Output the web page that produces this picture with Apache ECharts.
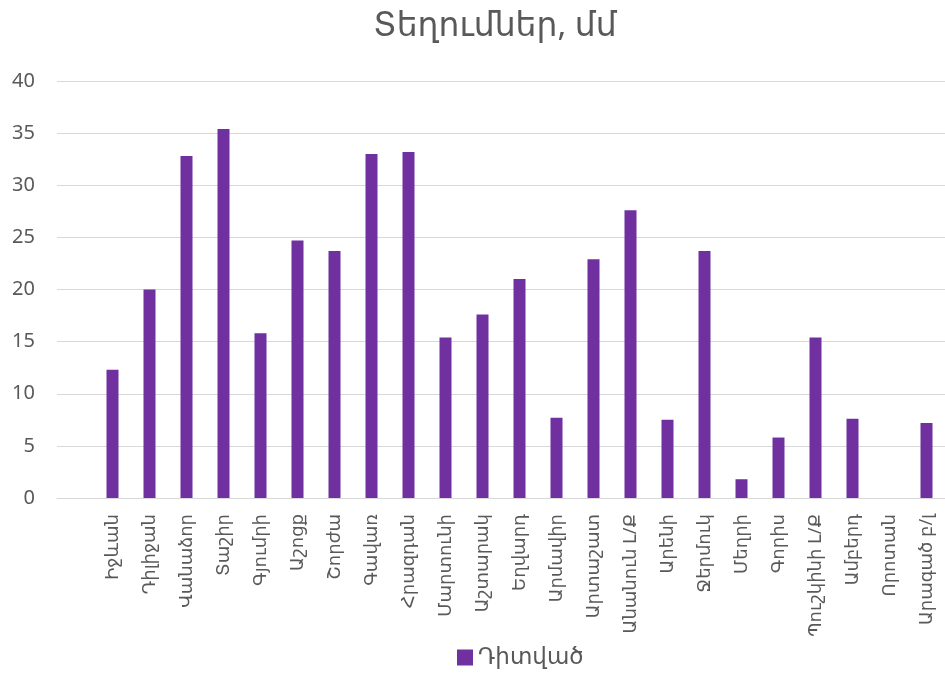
<!DOCTYPE html>
<html>
<head>
<meta charset="utf-8">
<script src="https://cdn.jsdelivr.net/npm/echarts@6/dist/echarts.min.js"></script>
<style>
html,body{margin:0;padding:0;background:#fff;}
#chart{width:945px;height:700px;}
</style>
</head>
<body>
<div id="chart"></div>
<script>
var titleText = 'Տեղումներ, մմ';
var seriesName = 'Դիտված';
var categories = ['', 'Իջևան', 'Դիլիջան', 'Վանաձոր', 'Տաշիր', 'Գյումրի', 'Աշոցք', 'Շորժա', 'Գավառ', 'Հրազդան', 'Մարտունի', 'Աշտարակ', 'Եղվարդ', 'Արմավիր', 'Արտաշատ', 'Անանուն Լ/Ք', 'Արենի', 'Ջերմուկ', 'Մեղրի', 'Գորիս', 'Պուշկինի Լ/Ք', 'Ամբերդ', 'Որոտան', 'Արագած բ/լ'];
var observed = [null, 12.3, 20.0, 32.8, 35.4, 15.8, 24.7, 23.7, 33.0, 33.2, 15.4, 17.6, 21.0, 7.7, 22.9, 27.6, 7.5, 23.7, 1.8, 5.8, 15.4, 7.6, null, 7.2];
var yTicks = [0, 5, 10, 15, 20, 25, 30, 35, 40];

var FONT = '"Noto Sans", "DejaVu Sans", sans-serif';
var chart = echarts.init(document.getElementById('chart'));
chart.setOption({
  animation: false,
  backgroundColor: '#ffffff',
  title: {
    text: titleText,
    left: 490,
    top: 5,
    textAlign: 'center',
    textStyle: { fontFamily: FONT, fontSize: 33, fontWeight: 'normal', color: '#595959' }
  },
  legend: {
    data: [seriesName],
    bottom: 26,
    left: 452,
    icon: 'rect',
    itemWidth: 16,
    itemHeight: 16,
    itemGap: 6,
    textStyle: { fontFamily: FONT, fontSize: 23, color: '#595959' }
  },
  grid: { left: 57, right: -9, top: 81, bottom: 202, containLabel: false },
  xAxis: {
    type: 'category',
    data: categories,
    axisLine: { show: true, lineStyle: { color: '#d9d9d9', width: 1 } },
    axisTick: { show: false },
    axisLabel: {
      rotate: 90,
      interval: 0,
      margin: 16,
      fontFamily: FONT,
      fontSize: 18,
      color: '#595959'
    }
  },
  yAxis: {
    type: 'value',
    min: yTicks[0],
    max: yTicks[yTicks.length - 1],
    interval: 5,
    axisLine: { show: false },
    axisTick: { show: false },
    axisLabel: { fontFamily: FONT, fontSize: 20, color: '#595959', margin: 22 },
    splitLine: { lineStyle: { color: '#d9d9d9', width: 1 } }
  },
  series: [{
    name: seriesName,
    type: 'bar',
    data: observed,
    barWidth: 12,
    itemStyle: { color: '#7030a0' }
  }]
});
</script>
</body>
</html>
